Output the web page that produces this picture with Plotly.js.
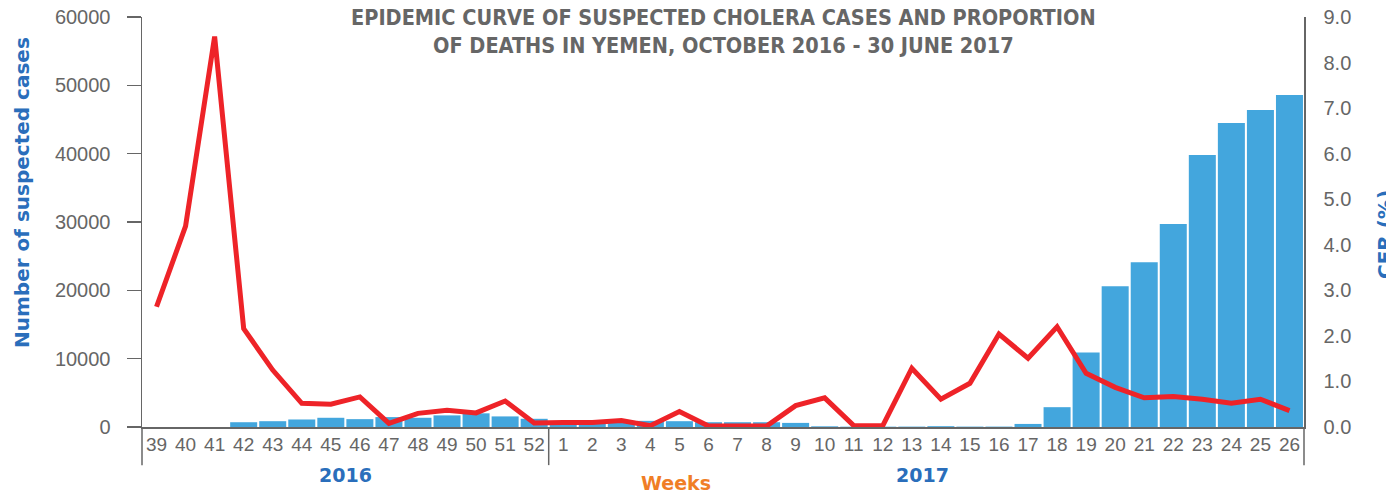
<!DOCTYPE html>
<html>
<head>
<meta charset="utf-8">
<script src="https://cdn.plot.ly/plotly-3.0.1.min.js"></script>
<style>
html,body{margin:0;padding:0;background:#fff;}
#chart{width:1386px;height:495px;}
</style>
</head>
<body>
<div id="chart"></div>
<script>
const weeks = ["39","40","41","42","43","44","45","46","47","48","49","50","51","52",
  "1","2","3","4","5","6","7","8","9","10","11","12","13","14","15","16","17","18","19","20","21","22","23","24","25","26"];
const cases = [0,0,0,700,850,1100,1350,1150,1450,1350,1700,2000,1550,1200,
  500,500,700,900,850,700,700,700,600,100,50,50,60,120,60,60,450,2900,10900,20600,24100,29700,39800,44500,46400,48600];
const cfr = [2.64,4.41,8.57,2.16,1.25,0.52,0.50,0.66,0.08,0.30,0.37,0.31,0.57,0.09,
  0.10,0.10,0.14,0.03,0.34,0.02,0.02,0.02,0.47,0.64,0.03,0.03,1.29,0.61,0.96,2.04,1.51,2.20,1.18,0.87,0.64,0.67,0.61,0.52,0.61,0.36];
const leftTicks = [0,10000,20000,30000,40000,50000,60000];
const rightTicks = [0,1,2,3,4,5,6,7,8,9];
const rightTickText = rightTicks.map(v => v.toFixed(1));

const gray = '#666666';
const blue = '#2a6ebb';
const boldFont = 'DejaVu Sans, sans-serif';

const traces = [
  {type:'bar', x:weeks, y:cases, marker:{color:'#43a6dd'}, yaxis:'y', hoverinfo:'skip'},
  {type:'scatter', mode:'lines', x:weeks, y:cfr, yaxis:'y2', line:{color:'#ee2328', width:5}, hoverinfo:'skip'}
];

const layout = {
  width:1386, height:495,
  margin:{l:142, r:82, t:17, b:68},
  paper_bgcolor:'#fff', plot_bgcolor:'#fff',
  showlegend:false,
  bargap:0.07,
  font:{family:'Liberation Sans, Arial, sans-serif', color:gray, size:18},
  xaxis:{type:'category', tickvals:weeks, ticktext:weeks, showgrid:false, zeroline:false,
    showline:true, linecolor:gray, linewidth:1.5, ticks:'', tickfont:{size:19, color:gray},
    ticklabelstandoff:0, range:[-0.5, 39.5]},
  yaxis:{range:[0,60000], tickvals:leftTicks, ticktext:leftTicks.map(String), showgrid:false, zeroline:false,
    showline:true, linecolor:gray, linewidth:1.5, ticks:'outside', ticklen:14, tickcolor:gray, tickwidth:1.5,
    tickfont:{size:20, color:gray}, ticklabelstandoff:12},
  yaxis2:{overlaying:'y', side:'right', range:[0,9], tickvals:rightTicks, ticktext:rightTickText,
    showgrid:false, zeroline:false, showline:true, linecolor:gray, linewidth:1.5, ticks:'',
    tickfont:{size:20, color:gray}, ticklabelstandoff:14},
  shapes:[
    {type:'line', xref:'paper', yref:'paper', x0:0, x1:0, y0:0, y1:-0.093, line:{color:gray, width:1.5}},
    {type:'line', xref:'paper', yref:'paper', x0:14/40, x1:14/40, y0:0, y1:-0.093, line:{color:gray, width:1.5}},
    {type:'line', xref:'paper', yref:'paper', x0:1, x1:1, y0:0, y1:-0.093, line:{color:gray, width:1.5}}
  ],
  annotations:[
    {text:'<b>EPIDEMIC CURVE OF SUSPECTED CHOLERA CASES AND PROPORTION<br>OF DEATHS IN YEMEN, OCTOBER 2016 - 30 JUNE 2017</b>',
     xref:'paper', yref:'paper', x:(723-142)/1162, y:1.035, xanchor:'center', yanchor:'top', showarrow:false,
     font:{family:'DejaVu Sans Condensed, Liberation Sans Narrow, sans-serif', size:21.5, color:gray}, align:'center'},
    {text:'<b>Number of suspected cases</b>', xref:'paper', yref:'paper', x:-120/1162, y:(427-193)/410,
     xanchor:'center', yanchor:'middle', textangle:-90, showarrow:false,
     font:{family:boldFont, size:20, color:blue}},
    {text:'<b>CFR (%)</b>', xref:'paper', yref:'paper', x:(1385-142)/1162, y:(427-235)/410,
     xanchor:'center', yanchor:'middle', textangle:-90, showarrow:false,
     font:{family:boldFont, size:20, color:blue}},
    {text:'<b>2016</b>', xref:'paper', yref:'paper', x:(345-142)/1162, y:-(475-427)/410,
     xanchor:'center', yanchor:'middle', showarrow:false,
     font:{family:boldFont, size:19, color:blue}},
    {text:'<b>2017</b>', xref:'paper', yref:'paper', x:(922-142)/1162, y:-(475-427)/410,
     xanchor:'center', yanchor:'middle', showarrow:false,
     font:{family:boldFont, size:19, color:blue}},
    {text:'<b>Weeks</b>', xref:'paper', yref:'paper', x:(676-142)/1162, y:-(483-427)/410,
     xanchor:'center', yanchor:'middle', showarrow:false,
     font:{family:boldFont, size:19, color:'#f07e26'}}
  ]
};

Plotly.newPlot('chart', traces, layout, {displayModeBar:false, staticPlot:true});
</script>
</body>
</html>
